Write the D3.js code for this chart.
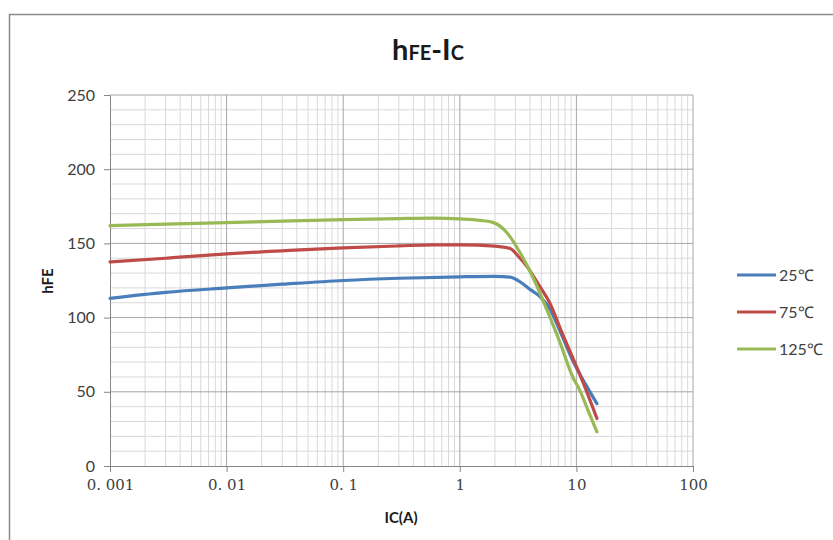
<!DOCTYPE html>
<html lang="en">
<head>
<meta charset="UTF-8">
<title>hFE-IC</title>
<style>
  body { margin: 0; background: #fff; }
  text { font-family: Lato, "Open Sans", sans-serif; }
</style>
</head>
<body>
<svg width="833" height="540"></svg>
<script src="https://cdn.jsdelivr.net/npm/d3@7/dist/d3.min.js"></script>
<script>
// data
var series = ["25℃", "75℃", "125℃"];
var colors = ["#4a7ebb", "#be4b48", "#98b954"];
var ic25 = [0.001, 0.003, 0.01, 0.03, 0.1, 0.3, 1, 2, 2.7, 3.3, 4.0, 4.9, 5.9, 7.5, 9.3, 12, 15];
var hfe25 = [113, 117, 120, 122.5, 125, 126.5, 127.5, 127.8, 127.3, 124, 119, 114, 106, 88, 71, 55, 42];
var ic75 = [0.001, 0.003, 0.01, 0.03, 0.1, 0.3, 0.6, 1, 2, 2.7, 3.2, 3.8, 4.9, 5.9, 7.5, 9.3, 12, 15];
var hfe75 = [137.5, 140, 143, 145, 147, 148.3, 149, 149, 148.2, 146.5, 141, 134, 120.5, 110, 90, 73, 52, 32];
var ic125 = [0.001, 0.003, 0.01, 0.03, 0.1, 0.3, 0.6, 1, 1.5, 1.95, 2.55, 3.3, 4.25, 5.6, 7.25, 9.3, 10.7, 12.5, 15];
var hfe125 = [162, 163, 164, 165, 166, 166.7, 167, 166.5, 165.5, 164, 157, 143.5, 127, 105, 83, 60, 51, 38, 23];
var xTicks = [0.001, 0.01, 0.1, 1, 10, 100];
var xTickLabels = ["0. 001", "0. 01", "0. 1", "1", "10", "100"];
var yTicks = [0, 50, 100, 150, 200, 250];

var icData = [ic25, ic75, ic125];
var hfeData = [hfe25, hfe75, hfe125];

var svg = d3.select("svg");

// outer chart border
svg.append("rect")
  .attr("x", 9.5).attr("y", 14.5)
  .attr("width", 900).attr("height", 600)
  .attr("fill", "#fff")
  .attr("stroke", "#8a8a8a")
  .attr("stroke-width", 1.5);

var x = d3.scaleLog().domain([0.001, 100]).range([110, 693]);
var y = d3.scaleLinear().domain([0, 250]).range([466, 95]);

var g = svg.append("g");

// minor grid
var minorX = [];
for (var e = -3; e < 2; e++) {
  for (var k = 2; k <= 9; k++) minorX.push(k * Math.pow(10, e));
}
g.selectAll(".vminor").data(minorX).enter().append("line")
  .attr("x1", d => x(d)).attr("x2", d => x(d))
  .attr("y1", y(0)).attr("y2", y(250))
  .attr("stroke", "#d9d9d9").attr("stroke-width", 1);
g.selectAll(".hminor").data(d3.range(10, 250, 10).filter(d => d % 50 != 0)).enter().append("line")
  .attr("x1", x(0.001)).attr("x2", x(100))
  .attr("y1", d => y(d)).attr("y2", d => y(d))
  .attr("stroke", "#d9d9d9").attr("stroke-width", 1);

// major grid
g.selectAll(".vmajor").data(xTicks.slice(1)).enter().append("line")
  .attr("x1", d => x(d)).attr("x2", d => x(d))
  .attr("y1", y(0)).attr("y2", y(250))
  .attr("stroke", "#a6a6a6").attr("stroke-width", 1);
g.selectAll(".hmajor").data(yTicks.slice(1)).enter().append("line")
  .attr("x1", x(0.001)).attr("x2", x(100))
  .attr("y1", d => y(d)).attr("y2", d => y(d))
  .attr("stroke", "#a6a6a6").attr("stroke-width", 1);

// axes
var yAxis = d3.axisLeft(y).tickValues(yTicks).tickSize(6).tickPadding(9);
var ya = g.append("g").attr("transform", "translate(110,0)").call(yAxis);
ya.select(".domain").attr("stroke", "#868686");
ya.selectAll(".tick line").attr("stroke", "#868686");
ya.selectAll("text").attr("font-size", 16).attr("fill", "#404040")
  .style("font-family", "Lato, 'Open Sans', sans-serif");

var xAxis = d3.axisBottom(x).tickValues(xTicks).tickFormat((d, i) => xTickLabels[i]).tickSize(6).tickPadding(7);
var xa = g.append("g").attr("transform", "translate(0,466)").call(xAxis);
xa.select(".domain").attr("stroke", "#868686");
xa.selectAll(".tick line").attr("stroke", "#868686");
xa.selectAll("text").attr("font-size", 15).attr("fill", "#404040")
  .style("font-family", "'DejaVu Serif', 'Liberation Serif', serif");

// curves
var line = d3.line().x(d => x(d[0])).y(d => y(d[1])).curve(d3.curveMonotoneX);
series.forEach(function(s, i) {
  var pts = icData[i].map((v, j) => [v, hfeData[i][j]]);
  g.append("path").datum(pts)
    .attr("d", line)
    .attr("fill", "none")
    .attr("stroke", colors[i])
    .attr("stroke-width", 3.2)
    .attr("stroke-linecap", "round");
});

// legend
var leg = svg.append("g").attr("transform", "translate(737,275)");
series.forEach(function(s, i) {
  leg.append("line")
    .attr("x1", 0).attr("x2", 39)
    .attr("y1", i * 37).attr("y2", i * 37)
    .attr("stroke", colors[i]).attr("stroke-width", 3.2);
  leg.append("text")
    .attr("x", 42).attr("y", i * 37 + 6)
    .attr("font-size", 16).attr("fill", "#404040")
    .text(s);
});

// title
var title = svg.append("text")
  .attr("x", 428).attr("y", 60)
  .attr("text-anchor", "middle")
  .attr("font-weight", "bold")
  .attr("fill", "#1a1a1a");
title.append("tspan").attr("font-size", 29).text("h");
title.append("tspan").attr("font-size", 20).text("FE");
title.append("tspan").attr("font-size", 29).text("-I");
title.append("tspan").attr("font-size", 20).text("C");

// axis titles
svg.append("text")
  .attr("transform", "translate(53,281) rotate(-90)")
  .attr("text-anchor", "middle")
  .attr("font-size", 15).attr("font-weight", "bold")
  .attr("fill", "#1a1a1a")
  .text("hFE");
svg.append("text")
  .attr("x", 401).attr("y", 523)
  .attr("text-anchor", "middle")
  .attr("font-size", 15).attr("font-weight", "bold")
  .attr("fill", "#1a1a1a")
  .text("IC(A)");
</script>
</body>
</html>
